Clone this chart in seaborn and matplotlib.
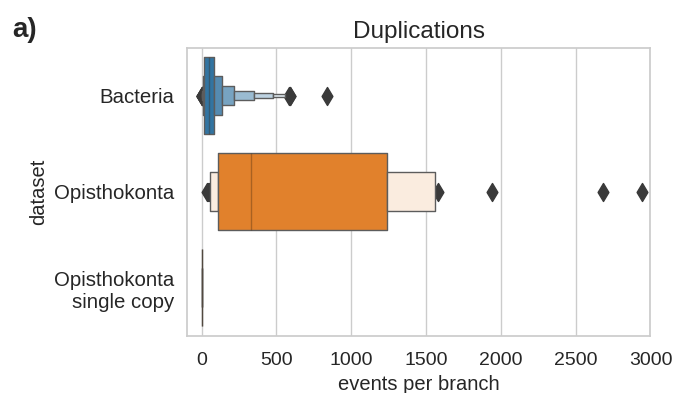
import numpy as np
import pandas as pd
import matplotlib
matplotlib.use("Agg")
import matplotlib.pyplot as plt
from matplotlib.collections import PatchCollection
import seaborn as sns

# Dataset order on the categorical axis
datasets = ["Bacteria", "Opisthokonta", "Opisthokonta\nsingle copy"]

# Bacteria: duplication events per branch, as a frequency table
bacteria_values = [0, 1, 2, 4, 7, 11, 18, 50, 85, 138, 214, 350, 475, 560, 586, 588, 590, 838]
bacteria_counts = [4, 4, 8, 16, 32, 64, 128, 128, 64, 32, 16, 8, 4, 1, 1, 1, 1, 1]

# Opisthokonta: duplication events per branch
opisthokonta_events = [
    37, 42, 48, 53, 58, 70, 85, 98, 109, 140, 175, 210, 240, 270, 300, 318,
    332, 420, 530, 640, 760, 880, 1000, 1120, 1239, 1320, 1410, 1490, 1562,
    1578, 1941, 2683, 2944,
]

# Opisthokonta single copy: no duplications on any branch
single_copy_events = [0] * 40

events = (
    list(np.repeat(bacteria_values, bacteria_counts))
    + opisthokonta_events
    + single_copy_events
)
labels = (
    [datasets[0]] * int(sum(bacteria_counts))
    + [datasets[1]] * len(opisthokonta_events)
    + [datasets[2]] * len(single_copy_events)
)
df = pd.DataFrame({"events per branch": events, "dataset": labels})

sns.set_theme(style="whitegrid")
plt.rcParams["font.family"] = ["Liberation Sans", "DejaVu Sans"]

palette = sns.color_palette("tab10", len(datasets))
base_colors = [np.array(sns.desaturate(c, 0.75)) for c in palette]

fig = plt.figure(figsize=(6.79, 3.93), dpi=100)
ax = fig.add_axes([0.275, 0.146, 0.683, 0.733])

sns.boxenplot(
    data=df, x="events per branch", y="dataset", hue="dataset",
    order=datasets, hue_order=datasets, palette=palette, legend=False,
    k_depth="tukey", linewidth=1, linecolor="#5c5c5c",
    line_kws=dict(color=(0.25, 0.15, 0.05, 0.35), linewidth=1),
    flier_kws=dict(marker="d", s=84, facecolor="#3a3a3a",
                   edgecolor="#3a3a3a", zorder=0.9),
    ax=ax,
)

# Shade each letter-value level from the dataset colour (innermost box)
# towards a light tint that keeps some hue (outermost box)
for coll in ax.collections:
    if not isinstance(coll, PatchCollection):
        continue
    paths = coll.get_paths()
    if len(paths) == 0:
        continue
    ext = [p.get_extents() for p in paths]
    heights = np.array([e.height for e in ext])
    ycen = np.mean([(e.y0 + e.y1) / 2 for e in ext])
    idx = int(np.clip(round(ycen), 0, len(datasets) - 1))
    levels = np.rint(np.log2(heights.max() / np.maximum(heights, 1e-9))).astype(int)
    n_levels = levels.max() + 1
    t = levels / max(n_levels - 1, 1)
    base = base_colors[idx]
    rgb = base[None, :] * (1 - 0.85 * t[:, None]) + 0.85 * t[:, None]
    fcs = np.column_stack([rgb, np.ones(len(paths))])
    coll.set_array(None)
    coll.set_facecolor(fcs)

ax.set_xlim(-100, 3000)
ax.set_ylim(2.5, -0.5)
ax.set_xticks([0, 500, 1000, 1500, 2000, 2500, 3000])
ax.tick_params(axis="x", labelsize=14, colors="#262626", pad=6)
ax.tick_params(axis="y", labelsize=14.7, colors="#262626", pad=3)
ax.set_xlabel("events per branch", fontsize=14.5, color="#262626")
ax.set_ylabel("dataset", fontsize=14.5, color="#262626")
ax.set_title("Duplications", fontsize=17.5, color="#262626", pad=7)
for s in ax.spines.values():
    s.set_color("#cccccc")

fig.text(0.018, 0.958, "a)", fontsize=20, fontweight="bold", va="top", ha="left")

fig.savefig("out.png", dpi=100)
